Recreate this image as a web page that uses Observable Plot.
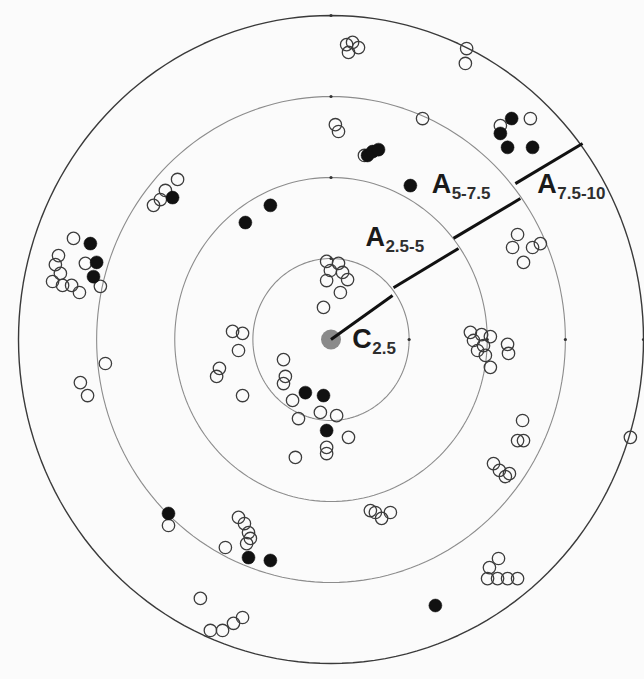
<!DOCTYPE html>
<html>
<head>
<meta charset="utf-8">
<script src="https://cdn.jsdelivr.net/npm/d3@7"></script>
<script src="https://cdn.jsdelivr.net/npm/@observablehq/plot@0.6"></script>
<style>
  html, body { margin: 0; padding: 0; background: #fbfbfb; }
  #chart { width: 644px; height: 679px; overflow: hidden; }
</style>
</head>
<body>
<div id="chart"></div>
<script>
// Ring radii (distance bands)
const ringRadii = [2.5, 5, 7.5, 10];

// Open-circle observations (x, y in distance units)
const openX = [0.50,0.69,0.88,0.56,4.34,4.30,2.93,6.38,5.42,0.14,0.24,1.07,
  -4.91,-5.30,-5.68,-5.46,
  -8.24,-8.72,-8.82,-8.91,-8.59,-8.30,-8.05,-7.38,-7.86,-8.66,
  -0.14,0.24,-0.02,0.37,-0.14,0.53,0.30,-0.24,
  5.97,5.81,6.16,6.45,6.70,
  -3.15,-2.83,-2.96,-3.57,-3.66,-2.83,-7.22,-8.02,-7.79,
  -1.52,-1.46,-1.52,-1.23,-1.04,-0.34,0.18,0.56,-0.14,-0.14,-1.14,
  4.56,4.82,5.10,4.69,4.94,5.10,5.65,5.68,4.88,4.46,
  6.13,5.97,6.16,5.20,5.39,5.58,5.71,
  1.26,1.42,1.62,1.90,
  9.58,
  5.36,5.07,5.01,5.33,5.65,5.97,
  -5.20,-2.96,-2.77,-2.64,-2.58,-2.70,-3.38,-4.18,-3.86,-3.47,-3.12,-2.83];
const openY = [9.10,9.17,9.01,8.86,8.98,8.52,6.82,6.82,6.60,6.63,6.42,5.68,
  4.94,4.60,4.14,4.32,
  3.12,2.59,2.31,1.79,1.67,1.67,1.45,1.64,2.35,2.04,
  2.41,2.35,2.13,2.07,1.82,1.85,1.45,0.99,
  3.24,2.84,2.38,2.84,2.96,
  0.25,0.19,-0.34,-0.89,-1.14,-1.73,-0.74,-1.33,-1.73,
  -0.62,-1.14,-1.36,-1.88,-2.44,-2.25,-2.35,-3.02,-3.33,-3.52,-3.64,
  -0.03,0.15,0.09,-0.34,-0.49,-0.86,-0.15,-0.43,-0.19,0.22,
  -2.50,-3.12,-3.12,-3.83,-4.04,-4.23,-4.14,
  -5.28,-5.34,-5.52,-5.34,
  -3.02,
  -6.76,-7.04,-7.38,-7.38,-7.38,-7.38,
  -5.74,-5.49,-5.68,-5.96,-6.14,-6.30,-6.42,-7.99,-8.98,-8.98,-8.76,-8.58];

// Filled-circle observations
const filledX = [5.78,5.42,5.65,6.45,1.17,1.33,1.52,2.54,-1.94,-2.74,-5.07,
  -7.70,-7.50,-7.60,-0.82,-0.24,-0.14,-5.20,-2.64,-1.94,3.34];
const filledY = [6.82,6.36,5.93,5.93,5.68,5.80,5.86,4.75,4.14,3.61,4.38,
  2.96,2.38,1.94,-1.64,-1.73,-2.81,-5.37,-6.73,-6.82,-8.21];

// Stepped radial transect segments
const segX1 = [0, 2.00, 3.92, 5.90];
const segY1 = [0, 1.60, 3.12, 4.81];
const segX2 = [1.97, 4.08, 6.06, 8.05];
const segY2 = [1.36, 2.81, 4.35, 6.05];

// Zone labels
const labelMain = ["C", "A", "A", "A"];
const labelSub = ["2.5", "2.5-5", "5-7.5", "7.5-10"];
const labelX = [0.68, 1.10, 3.22, 6.60];
const labelY = [0, 3.15, 4.78, 4.78];

// Build tables
const open = openX.map((x, i) => ({x, y: openY[i]}));
const filled = filledX.map((x, i) => ({x, y: filledY[i]}));
const segs = segX1.map((x1, i) => ({x1, y1: segY1[i], x2: segX2[i], y2: segY2[i]}));
const labels = labelMain.map((m, i) => ({main: m, sub: labelSub[i], x: labelX[i], y: labelY[i]}));
const ringPts = ringRadii.flatMap(r => d3.range(0, 361, 2).map(a => ({
  r, x: r * Math.cos(a * Math.PI / 180), y: r * Math.sin(a * Math.PI / 180)
})));
const tickPts = ringRadii.flatMap(r => [{x: 0, y: r}, {x: r, y: 0}]);

const font = "'Liberation Sans', Arial, sans-serif";

const chart = Plot.plot({
  width: 644,
  height: 679,
  margin: 0,
  style: {background: "#fbfbfb", fontFamily: font},
  x: {domain: [-10, 10], range: [18, 643], axis: null},
  y: {domain: [-10, 10], range: [663, 15], axis: null},
  marks: [
    Plot.line(ringPts, {x: "x", y: "y", z: "r",
      stroke: d => d.r === 10 ? "#3a3a3a" : "#8c8c8c",
      strokeWidth: d => d.r === 10 ? 1.4 : 1.1}),
    Plot.dot(tickPts, {x: "x", y: "y", r: 1.6, fill: "#333"}),
    Plot.dot([{x: 0, y: 0}], {x: "x", y: "y", r: 10, fill: "#8a8a8a"}),
    Plot.link(segs, {x1: "x1", y1: "y1", x2: "x2", y2: "y2", stroke: "#111", strokeWidth: 3}),
    Plot.dot(open, {x: "x", y: "y", r: 6.2, fill: "none", stroke: "#3c3c3c", strokeWidth: 1.3}),
    Plot.dot(filled, {x: "x", y: "y", r: 6.5, fill: "#111", stroke: "#111", strokeWidth: 0.5}),
    Plot.text(labels, {x: "x", y: "y", text: "main", textAnchor: "start",
      fontSize: 27, fontWeight: "bold", fill: "#1a1a1a", fontFamily: font}),
    Plot.text(labels, {x: "x", y: "y", text: "sub", textAnchor: "start", dx: 20, dy: 9,
      fontSize: 17, fontWeight: "bold", fill: "#2e2e2e", fontFamily: font})
  ]
});
document.getElementById("chart").appendChild(chart);
</script>
</body>
</html>
